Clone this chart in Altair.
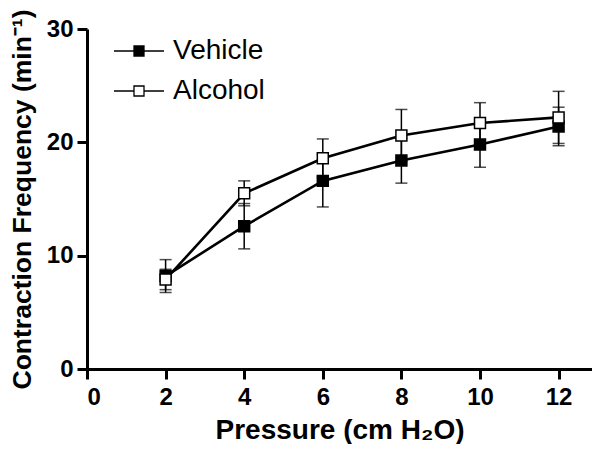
import altair as alt
import pandas as pd

pressure = [2, 4, 6, 8, 10, 12]
vehicle_mean = [8.2, 12.6, 16.6, 18.4, 19.8, 21.4]
vehicle_sem = [1.45, 2.0, 2.3, 2.0, 2.0, 1.7]
alcohol_mean = [7.9, 15.5, 18.6, 20.6, 21.7, 22.2]
alcohol_sem = [0.9, 1.1, 1.7, 2.3, 1.8, 2.3]
series_names = ["Vehicle", "Alcohol"]
series_fills = ["black", "white"]
x_ticks = [0, 2, 4, 6, 8, 10, 12]
y_ticks = [0, 10, 20, 30]

rows = []
for name, means, sems in [("Vehicle", vehicle_mean, vehicle_sem), ("Alcohol", alcohol_mean, alcohol_sem)]:
    for p, m, s in zip(pressure, means, sems):
        rows.append({"series": name, "pressure": p, "mean": m, "lo": m - s, "hi": m + s})
df = pd.DataFrame(rows)

FONT = "Liberation Sans"

x = alt.X("pressure:Q",
          scale=alt.Scale(domain=[0, 12.85], nice=False, zero=False),
          axis=alt.Axis(values=x_ticks, title="Pressure (cm H₂O)", titlePadding=7, labelPadding=6))
y = alt.Y("mean:Q",
          scale=alt.Scale(domain=[0, 30], nice=False),
          axis=alt.Axis(values=y_ticks, title="Contraction Frequency (min⁻¹)", titlePadding=10,
                        labelPadding=4, titleFontSize=26.5))

base = alt.Chart(df)

bars = base.mark_rule(color="black", strokeWidth=1.5).encode(
    x=x, y=alt.Y("lo:Q"), y2="hi:Q")
caps_lo = base.mark_tick(color="black", orient="horizontal", size=12, thickness=1.5).encode(
    x=x, y=alt.Y("lo:Q"))
caps_hi = base.mark_tick(color="black", orient="horizontal", size=12, thickness=1.5).encode(
    x=x, y=alt.Y("hi:Q"))
lines = base.mark_line(color="black", strokeWidth=2.6).encode(
    x=x, y=y, detail="series:N", order="pressure:Q")

legend_symbol = "M-1,0H-0.2M0.2,0H1M-0.2,-0.2H0.2V0.2H-0.2Z"
points = base.mark_square(size=120, stroke="black", strokeWidth=1.5, opacity=1).encode(
    x=x, y=y,
    fill=alt.Fill("series:N",
                  scale=alt.Scale(domain=series_names, range=series_fills),
                  legend=alt.Legend(orient="none", legendX=26, legendY=12, title=None,
                                    symbolType=legend_symbol, symbolSize=2500,
                                    symbolStrokeColor="black", symbolStrokeWidth=1.3,
                                    clipHeight=20, rowPadding=12, labelOffset=8, padding=0,
                                    labelFontSize=28, labelFont=FONT, labelColor="black")),
)

chart = alt.layer(bars, caps_lo, caps_hi, lines, points).properties(
    width=505, height=340,
    autosize=alt.AutoSizeParams(type="none"),
    padding={"left": 79, "top": 21, "right": 0, "bottom": 75},
).configure_view(stroke=None).configure_axis(
    grid=False,
    domainColor="black", domainWidth=3,
    tickColor="black", tickWidth=3, tickSize=10,
    labelFont=FONT, labelFontSize=24, labelFontWeight="bold", labelColor="black",
    titleFont=FONT, titleFontSize=28, titleFontWeight="bold", titleColor="black",
)

chart.save("out.html", embed_options={"renderer": "svg", "actions": False})
